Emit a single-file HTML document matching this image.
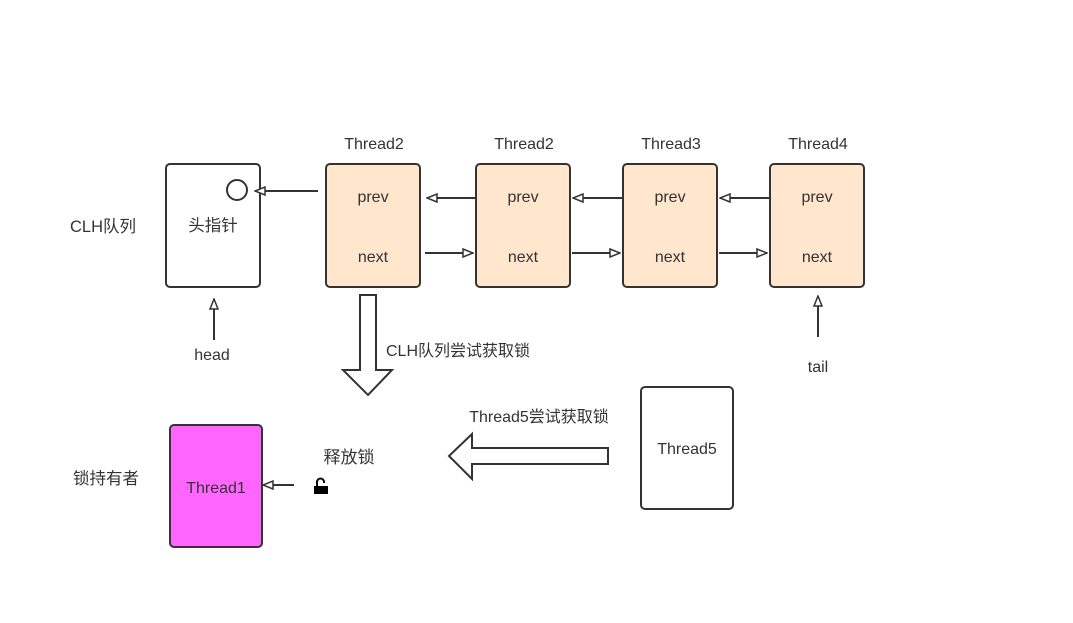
<!DOCTYPE html>
<html><head><meta charset="utf-8"><style>
html,body{margin:0;padding:0;background:#fff}
text{font-family:"Liberation Sans","Noto Sans CJK SC",sans-serif;fill:#333;font-size:16px}
</style></head><body>
<svg width="1073" height="618" xmlns="http://www.w3.org/2000/svg">
<defs>
<marker id="a" viewBox="0 0 12 10" refX="11" refY="5" markerWidth="12" markerHeight="10" markerUnits="userSpaceOnUse" orient="auto">
<path d="M1,1 L11,5 L1,9 Z" fill="#fff" stroke="#333" stroke-width="1.5"/></marker>
</defs>
<g stroke="#333" stroke-width="2">
<rect x="166" y="164" width="94" height="123" rx="4" fill="#fff"/>
<circle cx="237" cy="190" r="10" fill="#fff"/>
<rect x="326" y="164" width="94" height="123" rx="4" fill="#ffe6cc"/>
<rect x="476" y="164" width="94" height="123" rx="4" fill="#ffe6cc"/>
<rect x="623" y="164" width="94" height="123" rx="4" fill="#ffe6cc"/>
<rect x="770" y="164" width="94" height="123" rx="4" fill="#ffe6cc"/>
<rect x="170" y="425" width="92" height="122" rx="4" fill="#ff66ff"/>
<rect x="641" y="387" width="92" height="122" rx="4" fill="#fff"/>
<path d="M360,295 H376 V370 H392 L368,395 L343,370 H360 Z" fill="#fff"/>
<path d="M608,448 V464 H472 V479 L449,456 L472,434 V448 Z" fill="#fff"/>
</g>
<g stroke="#333" stroke-width="2" fill="none" marker-end="url(#a)">
<line x1="318" y1="191" x2="255" y2="191"/>
<line x1="475" y1="198" x2="427" y2="198"/>
<line x1="425" y1="253" x2="473" y2="253"/>
<line x1="622" y1="198" x2="573" y2="198"/>
<line x1="572" y1="253" x2="620" y2="253"/>
<line x1="769" y1="198" x2="720" y2="198"/>
<line x1="719" y1="253" x2="767" y2="253"/>
<line x1="214" y1="340" x2="214" y2="299"/>
<line x1="818" y1="337" x2="818" y2="296"/>
<line x1="294" y1="485" x2="263" y2="485"/>
</g>
<path d="M314,486 H328 V494 H314 Z" fill="#000"/>
<path d="M317,486 V482 A3.5,3.5 0 0 1 324,482 V483" fill="none" stroke="#000" stroke-width="2"/>
<g text-anchor="middle">
<text x="374" y="149">Thread2</text>
<text x="524" y="149">Thread2</text>
<text x="671" y="149">Thread3</text>
<text x="818" y="149">Thread4</text>
<text x="373" y="202">prev</text><text x="373" y="262">next</text>
<text x="523" y="202">prev</text><text x="523" y="262">next</text>
<text x="670" y="202">prev</text><text x="670" y="262">next</text>
<text x="817" y="202">prev</text><text x="817" y="262">next</text>
<text x="213" y="231" style="font-size:16.5px">头指针</text>
<text x="212" y="360">head</text>
<text x="818" y="372">tail</text>
<text x="216" y="493">Thread1</text>
<text x="687" y="454">Thread5</text>
<text x="103" y="232" style="font-size:16.5px">CLH队列</text>
<text x="106" y="484" style="font-size:16.5px">锁持有者</text>
<text x="349" y="463" style="font-size:17px">释放锁</text>
<text x="458" y="356">CLH队列尝试获取锁</text>
<text x="539" y="422">Thread5尝试获取锁</text>
</g>
</svg>
</body></html>
